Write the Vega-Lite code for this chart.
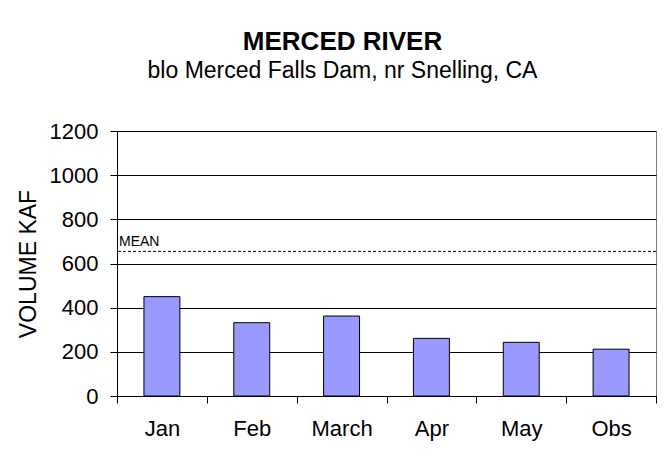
{
  "$schema": "https://vega.github.io/schema/vega-lite/v6.json",
  "width": 539,
  "height": 265,
  "autosize": "none",
  "padding": {"left": 117, "top": 131, "right": 9, "bottom": 63},
  "background": "white",
  "config": {
    "font": "Liberation Sans",
    "view": {"stroke": "#808080", "strokeWidth": 1}
  },
  "title": {
    "text": "MERCED RIVER",
    "subtitle": "blo Merced Falls Dam, nr Snelling, CA",
    "font": "Liberation Sans",
    "subtitleFont": "Liberation Sans",
    "fontSize": 26,
    "fontWeight": "bold",
    "subtitleFontSize": 23,
    "color": "#000",
    "subtitleColor": "#000",
    "anchor": "middle",
    "frame": "group",
    "dx": -44,
    "offset": 37,
    "subtitlePadding": 5
  },
  "layer": [
    {
      "data": {
        "values": [
          {"month": "Jan", "volume": 450},
          {"month": "Feb", "volume": 332},
          {"month": "March", "volume": 362},
          {"month": "Apr", "volume": 261},
          {"month": "May", "volume": 243},
          {"month": "Obs", "volume": 212}
        ]
      },
      "mark": {"type": "bar", "fill": "#9999FF", "stroke": "#000", "strokeWidth": 1, "width": {"band": 0.4}},
      "encoding": {
        "x": {
          "field": "month",
          "type": "nominal",
          "sort": null,
          "scale": {"paddingInner": 0, "paddingOuter": 0},
          "axis": {
            "title": null,
            "labelFontSize": 22,
            "labelColor": "#000",
            "labelAngle": 0,
            "labelBaseline": "top",
            "labelPadding": 15,
            "tickBand": "extent",
            "tickSize": 7,
            "tickColor": "#000",
            "domainColor": "#000",
            "grid": false
          }
        },
        "y": {
          "field": "volume",
          "type": "quantitative",
          "scale": {"domain": [0, 1200], "nice": false},
          "axis": {
            "title": "VOLUME KAF",
            "titleFontSize": 23,
            "titleFontWeight": "normal",
            "titleColor": "#000",
            "titlePadding": 9,
            "labelFontSize": 22,
            "labelColor": "#000",
            "labelPadding": 12,
            "format": "d",
            "tickSize": 7,
            "tickColor": "#000",
            "domainColor": "#000",
            "gridColor": "#000",
            "values": [0, 200, 400, 600, 800, 1000, 1200]
          }
        }
      }
    },
    {
      "data": {"values": [{"label": "MEAN", "mean": 655}]},
      "mark": {"type": "rule", "stroke": "#000", "strokeWidth": 1, "strokeDash": [3, 2]},
      "encoding": {"y": {"field": "mean", "type": "quantitative"}}
    },
    {
      "data": {"values": [{"label": "MEAN", "mean": 655}]},
      "mark": {"type": "text", "align": "left", "baseline": "alphabetic", "dx": 2, "dy": -5, "fontSize": 14, "color": "#000"},
      "encoding": {
        "x": {"datum": "Jan", "type": "nominal", "bandPosition": 0},
        "y": {"field": "mean", "type": "quantitative"},
        "text": {"field": "label"}
      }
    }
  ]
}
